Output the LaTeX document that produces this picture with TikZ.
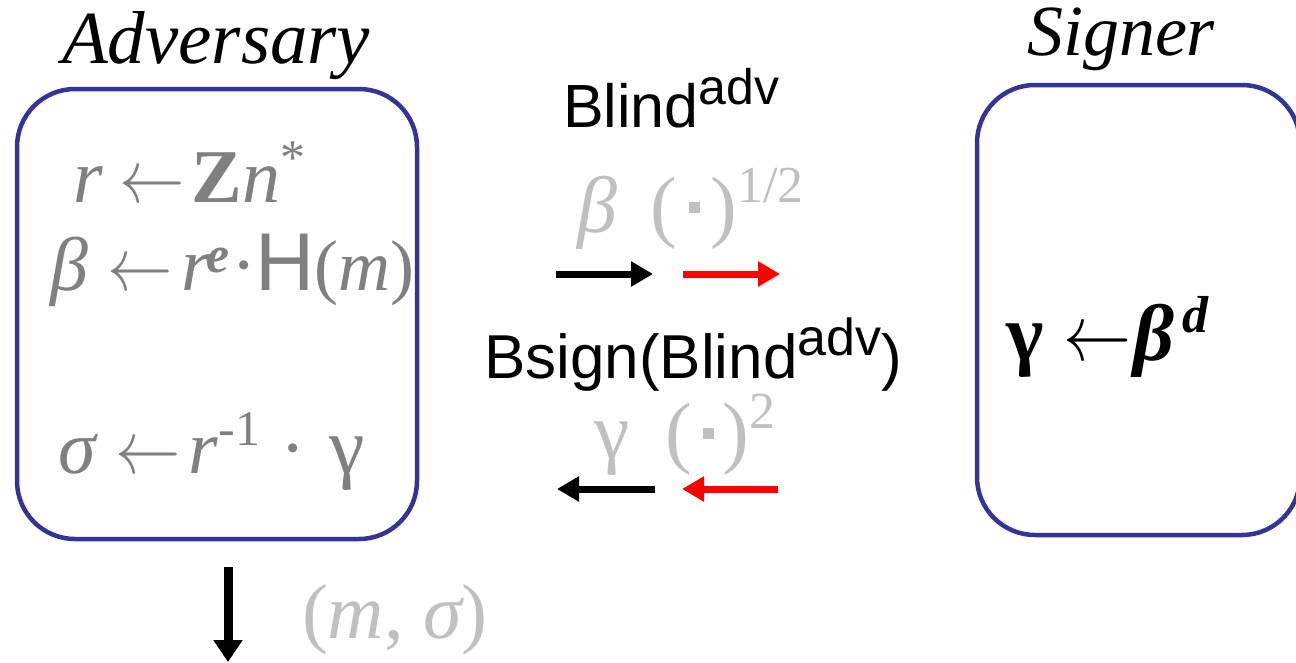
\documentclass[tikz,border=0pt]{standalone}
\usepackage{fix-cm}
\usepackage{graphicx}
\usepackage{fontspec}
\setmainfont{Liberation Serif}
\newfontfamily\arialf{Liberation Sans}
\usetikzlibrary{arrows.meta}
\definecolor{boxblue}{HTML}{333399}
\definecolor{midgray}{HTML}{808080}
\definecolor{palegray}{HTML}{C0C0C0}
\newcommand\lar[1][0.86]{\scalebox{#1}[1]{$\leftarrow$}}
\newcommand\fs[1]{\fontsize{#1}{#1}\selectfont}
\newcommand\sqdot{\raisebox{19pt}{\rule{11pt}{11pt}}}
\tikzset{
  party/.style={draw=boxblue, line width=4.5pt, rounded corners=58pt, inner sep=0pt},
  txt/.style={anchor=base west, inner sep=0pt, outer sep=0pt},
  advtxt/.style={txt, text=midgray},
  msgtxt/.style={txt, text=palegray},
  fatarrow/.style={line width=7pt, -{Triangle[length=22pt,width=24pt]}},
  outarrow/.style={line width=9pt, -{Triangle[length=22pt,width=28pt]}},
}
\begin{document}
\begin{tikzpicture}[x=1pt,y=-1pt]
\useasboundingbox (0,0) rectangle (1296,662);
% boxes
\node[party, minimum width=400pt, minimum height=450pt] (adv) at (217,314) {};
\node[party, minimum width=323pt, minimum height=450pt] (sig) at (1138.5,310) {};
% titles
\node[txt] (advt) at (62,63) {\fs{75}\itshape Adversary};
\node[txt] (sigt) at (1027,55) {\fs{72}\itshape Signer};
% adversary computations
\node[advtxt] (l1) at (73,202) {\fs{76}\itshape r\hspace{17pt}\upshape\lar\hspace{7pt}{\bfseries Z}\itshape n\upshape\raisebox{28pt}{\fs{50}*}};
\node[advtxt] (l2) at (50,290) {\fs{76}\itshape β\hspace{20pt}\upshape\lar\hspace{8pt}\itshape r\hspace{-4pt}\raisebox{18pt}{\fs{52}\bfseries\itshape e}\upshape\hspace{2pt}·\hspace{-2pt}{\arialf\fs{82}H}\fs{72}(\itshape m\upshape)};
\node[advtxt] (l3) at (58,473) {\fs{76}\itshape σ\hspace{20pt}\upshape\lar\hspace{8pt}\itshape r\upshape\raisebox{28pt}{\fs{50}-1}\hspace{20pt}·\hspace{24pt}{\fs{80}γ}};
% signer computation
\node[txt] (s1) at (1006,360) {\fs{80}\bfseries γ\hspace{20pt}\lar[0.85]\hspace{2pt}\itshape β\hspace{8pt}\raisebox{28pt}{\fs{52}d}};
% middle labels
\node[txt] (blind) at (563,127) {\arialf\fs{61}Blind\raisebox{23pt}{\fs{50}adv}};
\node[msgtxt] (m1) at (577,232) {\fs{80}\itshape β\hspace{34pt}\upshape(\hspace{12pt}\sqdot\hspace{10pt})\raisebox{30pt}{\fs{52}1/2}};
\node[txt] (bsign) at (484,378) {\arialf\fs{62}Bsign(Blind\raisebox{23pt}{\fs{52}adv})};
\node[msgtxt] (m2) at (594,458) {\fs{80}γ\hspace{36pt}(\hspace{11pt}\sqdot\hspace{9pt})\raisebox{30pt}{\fs{52}2}};
\node[msgtxt] (out) at (302,638) {\fs{78}(\itshape m\upshape, \itshape σ\upshape)};
% arrows
\coordinate (a1s) at (556,274); \coordinate (a1e) at (653,274);
\coordinate (a2s) at (683,274); \coordinate (a2e) at (780,274);
\coordinate (b1s) at (655,489); \coordinate (b1e) at (557,489);
\coordinate (b2s) at (778,489); \coordinate (b2e) at (682,489);
\coordinate (os) at (228,567); \coordinate (oe) at (228,662);
\draw[fatarrow, black] (a1s) -- (a1e);
\draw[fatarrow, red] (a2s) -- (a2e);
\draw[fatarrow, black] (b1s) -- (b1e);
\draw[fatarrow, red] (b2s) -- (b2e);
\draw[outarrow, black] (os) -- (oe);
\end{tikzpicture}
\end{document}
